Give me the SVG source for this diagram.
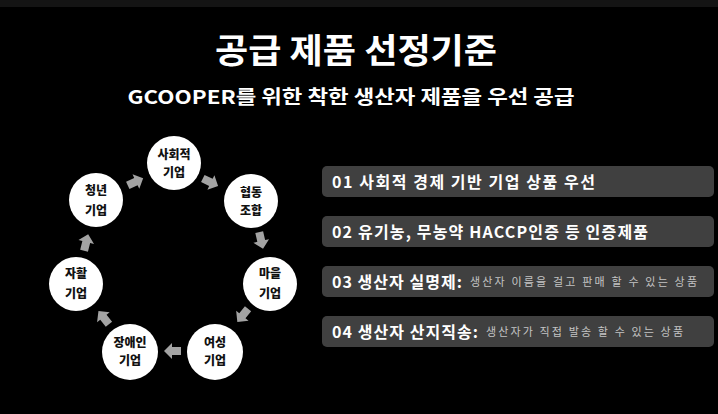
<svg xmlns="http://www.w3.org/2000/svg" width="718" height="414" viewBox="0 0 718 414">
<style>
.title{font-family:"Noto Sans CJK KR","Noto Sans",sans-serif;font-weight:700;fill:#fff;}
.node circle{fill:#fff;}
.node text{font-family:"Noto Sans CJK KR",sans-serif;font-weight:900;font-size:12px;fill:#111;text-anchor:middle;}
.box rect{fill:#404040;}
.box .b{font-family:"Noto Sans CJK KR","Noto Sans",sans-serif;font-weight:700;font-size:16px;fill:#fff;}
.box .s{font-family:"Noto Sans CJK KR",sans-serif;font-weight:400;font-size:11px;fill:#c4c4c4;}
.arr{fill:#a3a3a3;}
</style>
<defs>
<path id="ar" d="M-8,-4 H1 V-8 L9,0 L1,8 V4 H-8 Z"/>
</defs>
<rect x="0" y="0" width="718" height="414" fill="#000"/>
<rect x="0" y="0" width="718" height="7" fill="#141414"/>
<text class="title" x="356" y="63" font-size="34" text-anchor="middle" textLength="282" lengthAdjust="spacingAndGlyphs">공급 제품 선정기준</text>
<text class="title" x="351" y="104" font-size="19" text-anchor="middle" textLength="447" lengthAdjust="spacingAndGlyphs">GCOOPER를 위한 착한 생산자 제품을 우선 공급</text>
<g id="connectors" class="arr">
<use href="#ar" transform="translate(135,182) rotate(-25)"/>
<use href="#ar" transform="translate(210,182) rotate(26)"/>
<use href="#ar" transform="translate(261,240) rotate(77)"/>
<use href="#ar" transform="translate(243,315) rotate(129)"/>
<use href="#ar" transform="translate(173,351) rotate(180)"/>
<use href="#ar" transform="translate(104,318) rotate(232)"/>
<use href="#ar" transform="translate(86,243) rotate(-76)"/>
</g>
<g id="n1" class="node"><circle cx="174" cy="163" r="27"/><text x="174" y="158.5">사회적</text><text x="174" y="176.5">기업</text></g>
<g id="n2" class="node"><circle cx="251" cy="201" r="27"/><text x="251" y="196.5">협동</text><text x="251" y="214.5">조합</text></g>
<g id="n3" class="node"><circle cx="270" cy="284" r="27"/><text x="270" y="277.5">마을</text><text x="270" y="297.5">기업</text></g>
<g id="n4" class="node"><circle cx="215" cy="352" r="28"/><text x="215" y="346.5">여성</text><text x="215" y="364.5">기업</text></g>
<g id="n5" class="node"><circle cx="130" cy="352" r="28"/><text x="130" y="346.5">장애인</text><text x="130" y="364.5">기업</text></g>
<g id="n6" class="node"><circle cx="76" cy="284" r="27"/><text x="76" y="277.5">자활</text><text x="76" y="297.5">기업</text></g>
<g id="n7" class="node"><circle cx="96" cy="200" r="27"/><text x="96" y="194.5">청년</text><text x="96" y="214.5">기업</text></g>
<g id="b1" class="box"><rect x="322" y="166" width="392" height="31" rx="5"/><text class="b" x="332" y="187.5" textLength="263" lengthAdjust="spacing">01 사회적 경제 기반 기업 상품 우선</text></g>
<g id="b2" class="box"><rect x="322" y="216" width="392" height="31" rx="5"/><text class="b" x="332" y="237.5" textLength="316" lengthAdjust="spacing">02 유기농, 무농약 HACCP인증 등 인증제품</text></g>
<g id="b3" class="box"><rect x="322" y="266" width="392" height="31" rx="5"/><text class="b" x="332" y="287.5" textLength="130" lengthAdjust="spacing">03 생산자 실명제:</text><text class="s" x="470" y="285.5" textLength="227" lengthAdjust="spacing">생산자 이름을 걸고 판매 할 수 있는 상품</text></g>
<g id="b4" class="box"><rect x="322" y="316" width="392" height="31" rx="5"/><text class="b" x="332" y="337.5" textLength="146" lengthAdjust="spacing">04 생산자 산지직송:</text><text class="s" x="486" y="335.5" textLength="197" lengthAdjust="spacing">생산자가 직접 발송 할 수 있는 상품</text></g>
</svg>
